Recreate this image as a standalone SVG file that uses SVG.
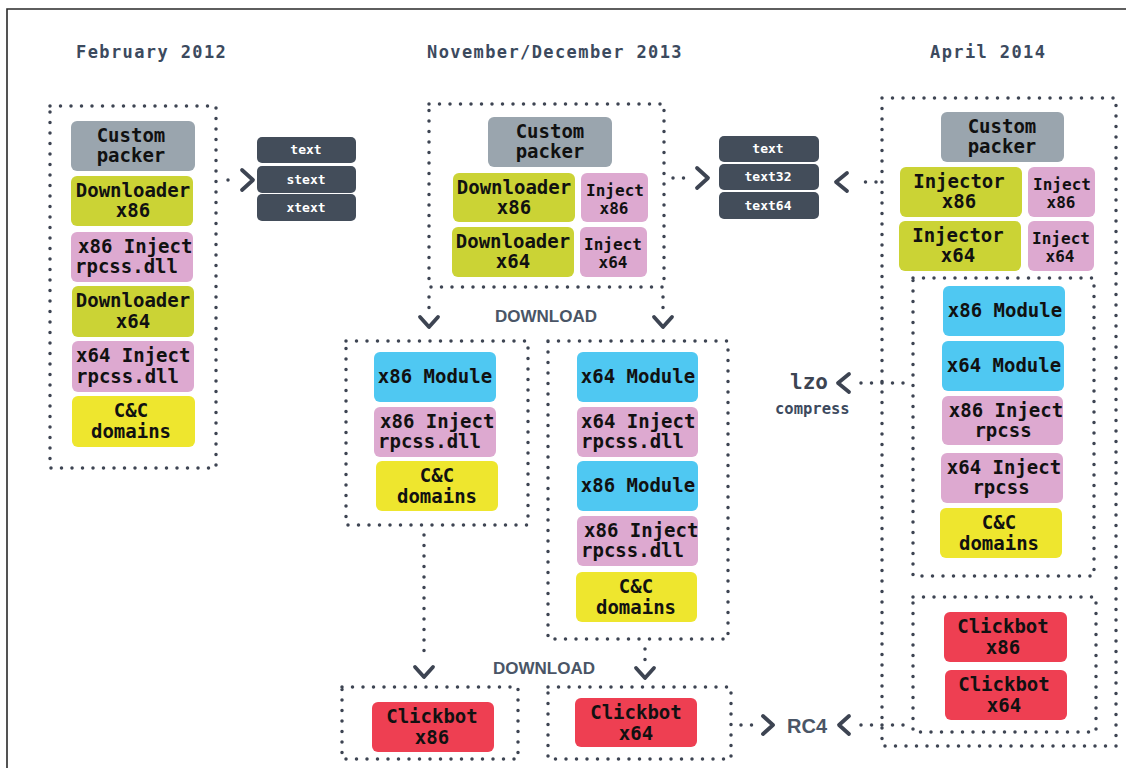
<svg xmlns="http://www.w3.org/2000/svg" width="1126" height="768" viewBox="0 0 1126 768">
<style>
.frame{fill:none;stroke:#2a2a2a;stroke-width:1.6}
.title{font-family:"DejaVu Sans Mono",monospace;font-weight:bold;font-size:17px;letter-spacing:1.4px;fill:#3c4a5e}
.box{fill:none;stroke:#3d4452;stroke-width:3.5;stroke-linecap:round;stroke-dasharray:0 10.5}
.dl{fill:none;stroke:#3d4452;stroke-width:3.5;stroke-linecap:round;stroke-dasharray:0 10.5}
.chev{fill:none;stroke:#3d4452;stroke-width:3.8;stroke-linecap:round;stroke-linejoin:round}
.n{font-family:"DejaVu Sans Mono",monospace;font-weight:bold;font-size:19px;fill:#111}
.ns{font-family:"DejaVu Sans Mono",monospace;font-weight:bold;font-size:16px;fill:#111}
.c{text-anchor:middle}
.st{font-family:"DejaVu Sans Mono",monospace;font-weight:bold;font-size:13px;fill:#fff;text-anchor:middle}
.lbl{font-family:"Liberation Sans",Arial,sans-serif;font-weight:bold;font-size:17px;fill:#4a5566}
.gray{fill:#9aa5ae}.lime{fill:#cbd335}.pink{fill:#dda9d0}.yel{fill:#eee62e}.blue{fill:#4fc8f2}.red{fill:#ee3f52}.dark{fill:#434d5a}
</style>
<path class="frame" d="M7,768 V9 H1126"/>
<text class="title" x="76" y="58">February 2012</text>
<text class="title" x="427" y="58">November/December 2013</text>
<text class="title" x="930" y="58">April 2014</text>

<g id="connectors">
<line class="dl" x1="228" y1="180" x2="238" y2="180"/><path class="chev" d="M242,170 L253,180 L242,190"/>
<line class="dl" x1="673" y1="178" x2="690" y2="178"/><path class="chev" d="M697,168 L708,178 L697,188"/>
<line class="dl" x1="876" y1="182" x2="855" y2="182"/><path class="chev" d="M847,173 L836,182 L847,191"/>
<line class="dl" x1="429" y1="297" x2="429" y2="312"/><path class="chev" d="M420,317 L429,327 L438,317"/>
<line class="dl" x1="663" y1="297" x2="663" y2="312"/><path class="chev" d="M654,317 L663,327 L672,317"/>
<line class="dl" x1="424" y1="535" x2="424" y2="661"/><path class="chev" d="M415,667 L424,677 L433,667"/>
<line class="dl" x1="645" y1="649" x2="645" y2="662"/><path class="chev" d="M636,668 L645,678 L654,668"/>
<line class="dl" x1="741" y1="725" x2="753" y2="725"/><path class="chev" d="M763,716 L773,725 L763,734"/>
<line class="dl" x1="903" y1="725" x2="857" y2="725"/><path class="chev" d="M849,716 L839,725 L849,734"/>
<line class="dl" x1="903" y1="383" x2="857" y2="383"/><path class="chev" d="M849,374 L838,383 L849,392"/>
<text class="lbl c" x="546" y="322">DOWNLOAD</text>
<text class="lbl c" x="544" y="674">DOWNLOAD</text>
<text class="lbl" x="787" y="733" style="font-size:20px">RC4</text>
<text x="790" y="389" style="font-family:'DejaVu Sans Mono',monospace;font-weight:bold;font-size:21px;fill:#3d4452">lzo</text>
<text x="775" y="414" style="font-family:'DejaVu Sans Mono',monospace;font-weight:bold;font-size:15.5px;fill:#3d4a5e">compress</text>
</g>

<g id="feb2012">
<rect class="box" x="50" y="106" width="166" height="362"/>
<g id="f-packer"><rect class="gray" x="71" y="121" width="124" height="50" rx="6"/><text class="n c" x="131" y="142">Custom</text><text class="n c" x="131" y="162">packer</text></g>
<g id="f-dl86"><rect class="lime" x="71" y="176" width="122" height="50" rx="6"/><text class="n c" x="133" y="197">Downloader</text><text class="n c" x="133" y="217">x86</text></g>
<g id="f-inj86"><rect class="pink" x="71" y="232" width="122" height="50" rx="6"/><text class="n" x="78" y="253">x86 Inject</text><text class="n" x="75" y="273">rpcss.dll</text></g>
<g id="f-dl64"><rect class="lime" x="72" y="286" width="122" height="51" rx="6"/><text class="n c" x="133" y="307">Downloader</text><text class="n c" x="133" y="328">x64</text></g>
<g id="f-inj64"><rect class="pink" x="72" y="341" width="122" height="51" rx="6"/><text class="n" x="76" y="362">x64 Inject</text><text class="n" x="76" y="383">rpcss.dll</text></g>
<g id="f-cc"><rect class="yel" x="72" y="396" width="123" height="51" rx="6"/><text class="n c" x="131" y="417">C&amp;C</text><text class="n c" x="131" y="438">domains</text></g>
</g>

<g id="sections-left">
<rect class="dark" x="257" y="137" width="99" height="26" rx="5"/><text class="st" x="306" y="154">text</text>
<rect class="dark" x="257" y="166" width="99" height="27" rx="5"/><text class="st" x="306" y="184">stext</text>
<rect class="dark" x="257" y="194" width="99" height="27" rx="5"/><text class="st" x="306" y="212">xtext</text>
</g>

<g id="nov2013">
<rect class="box" x="429" y="104" width="235" height="183"/>
<g id="n-packer"><rect class="gray" x="488" y="117" width="124" height="50" rx="6"/><text class="n c" x="550" y="138">Custom</text><text class="n c" x="550" y="158">packer</text></g>
<g id="n-dl86"><rect class="lime" x="453" y="173" width="122" height="49" rx="6"/><text class="n c" x="514" y="194">Downloader</text><text class="n c" x="514" y="214">x86</text></g>
<g id="n-i86"><rect class="pink" x="581" y="173" width="67" height="49" rx="6"/><text class="ns c" x="615" y="196">Inject</text><text class="ns c" x="614" y="214">x86</text></g>
<g id="n-dl64"><rect class="lime" x="452" y="227" width="122" height="50" rx="6"/><text class="n c" x="513" y="248">Downloader</text><text class="n c" x="513" y="268">x64</text></g>
<g id="n-i64"><rect class="pink" x="580" y="227" width="67" height="50" rx="6"/><text class="ns c" x="613" y="250">Inject</text><text class="ns c" x="613" y="268">x64</text></g>
</g>

<g id="sections-right">
<rect class="dark" x="719" y="136" width="100" height="26" rx="5"/><text class="st" x="768" y="153">text</text>
<rect class="dark" x="719" y="164" width="100" height="26" rx="5"/><text class="st" x="768" y="181">text32</text>
<rect class="dark" x="719" y="192" width="100" height="27" rx="5"/><text class="st" x="768" y="210">text64</text>
</g>

<g id="mod-x86">
<rect class="box" x="346" y="341" width="182" height="184"/>
<g id="ml-m86"><rect class="blue" x="374" y="352" width="122" height="50" rx="6"/><text class="n c" x="435" y="383">x86 Module</text></g>
<g id="ml-inj"><rect class="pink" x="374" y="407" width="122" height="50" rx="6"/><text class="n" x="380" y="428">x86 Inject</text><text class="n" x="378" y="448">rpcss.dll</text></g>
<g id="ml-cc"><rect class="yel" x="376" y="461" width="122" height="50" rx="6"/><text class="n c" x="437" y="482">C&amp;C</text><text class="n c" x="437" y="503">domains</text></g>
</g>

<g id="mod-x64">
<rect class="box" x="548" y="341" width="180" height="298"/>
<g id="mr-m64"><rect class="blue" x="577" y="352" width="121" height="50" rx="6"/><text class="n c" x="638" y="383">x64 Module</text></g>
<g id="mr-inj64"><rect class="pink" x="577" y="407" width="121" height="50" rx="6"/><text class="n" x="581" y="428">x64 Inject</text><text class="n" x="581" y="448">rpcss.dll</text></g>
<g id="mr-m86"><rect class="blue" x="577" y="461" width="121" height="50" rx="6"/><text class="n c" x="638" y="492">x86 Module</text></g>
<g id="mr-inj86"><rect class="pink" x="577" y="516" width="121" height="50" rx="6"/><text class="n" x="584" y="537">x86 Inject</text><text class="n" x="581" y="557">rpcss.dll</text></g>
<g id="mr-cc"><rect class="yel" x="576" y="572" width="121" height="50" rx="6"/><text class="n c" x="636" y="593">C&amp;C</text><text class="n c" x="636" y="614">domains</text></g>
</g>

<g id="click-x86">
<rect class="box" x="342" y="687" width="176" height="72"/>
<g id="cb86"><rect class="red" x="372" y="702" width="122" height="50" rx="6"/><text class="n c" x="432" y="723">Clickbot</text><text class="n c" x="432" y="744">x86</text></g>
</g>
<g id="click-x64">
<rect class="box" x="548" y="687" width="183" height="72"/>
<g id="cb64"><rect class="red" x="575" y="698" width="122" height="49" rx="6"/><text class="n c" x="636" y="719">Clickbot</text><text class="n c" x="636" y="740">x64</text></g>
</g>

<g id="apr2014">
<rect class="box" x="882" y="98" width="234" height="648"/>
<g id="a-packer"><rect class="gray" x="941" y="112" width="123" height="50" rx="6"/><text class="n c" x="1002" y="133">Custom</text><text class="n c" x="1002" y="153">packer</text></g>
<g id="a-ij86"><rect class="lime" x="900" y="167" width="122" height="50" rx="6"/><text class="n c" x="959" y="188">Injector</text><text class="n c" x="959" y="208">x86</text></g>
<g id="a-i86"><rect class="pink" x="1028" y="167" width="67" height="50" rx="6"/><text class="ns c" x="1062" y="190">Inject</text><text class="ns c" x="1061" y="208">x86</text></g>
<g id="a-ij64"><rect class="lime" x="899" y="221" width="122" height="50" rx="6"/><text class="n c" x="958" y="242">Injector</text><text class="n c" x="958" y="262">x64</text></g>
<g id="a-i64"><rect class="pink" x="1028" y="221" width="66" height="50" rx="6"/><text class="ns c" x="1061" y="244">Inject</text><text class="ns c" x="1060" y="262">x64</text></g>
</g>
<g id="a-modules">
<rect class="box" x="913" y="278" width="181" height="298"/>
<g id="a-m86"><rect class="blue" x="943" y="286" width="122" height="50" rx="6"/><text class="n c" x="1005" y="317">x86 Module</text></g>
<g id="a-m64"><rect class="blue" x="942" y="341" width="122" height="50" rx="6"/><text class="n c" x="1004" y="372">x64 Module</text></g>
<g id="a-inj86"><rect class="pink" x="942" y="396" width="121" height="49" rx="6"/><text class="n c" x="1006" y="417">x86 Inject</text><text class="n c" x="1003" y="437">rpcss</text></g>
<g id="a-inj64"><rect class="pink" x="941" y="453" width="122" height="50" rx="6"/><text class="n c" x="1004" y="474">x64 Inject</text><text class="n c" x="1001" y="494">rpcss</text></g>
<g id="a-cc"><rect class="yel" x="940" y="508" width="122" height="50" rx="6"/><text class="n c" x="999" y="529">C&amp;C</text><text class="n c" x="999" y="550">domains</text></g>
</g>
<g id="a-clickbots">
<rect class="box" x="913" y="597" width="183" height="135"/>
<g id="a-cb86"><rect class="red" x="944" y="612" width="123" height="50" rx="6"/><text class="n c" x="1003" y="633">Clickbot</text><text class="n c" x="1003" y="654">x86</text></g>
<g id="a-cb64"><rect class="red" x="945" y="670" width="122" height="50" rx="6"/><text class="n c" x="1004" y="691">Clickbot</text><text class="n c" x="1004" y="712">x64</text></g>
</g>
</svg>
